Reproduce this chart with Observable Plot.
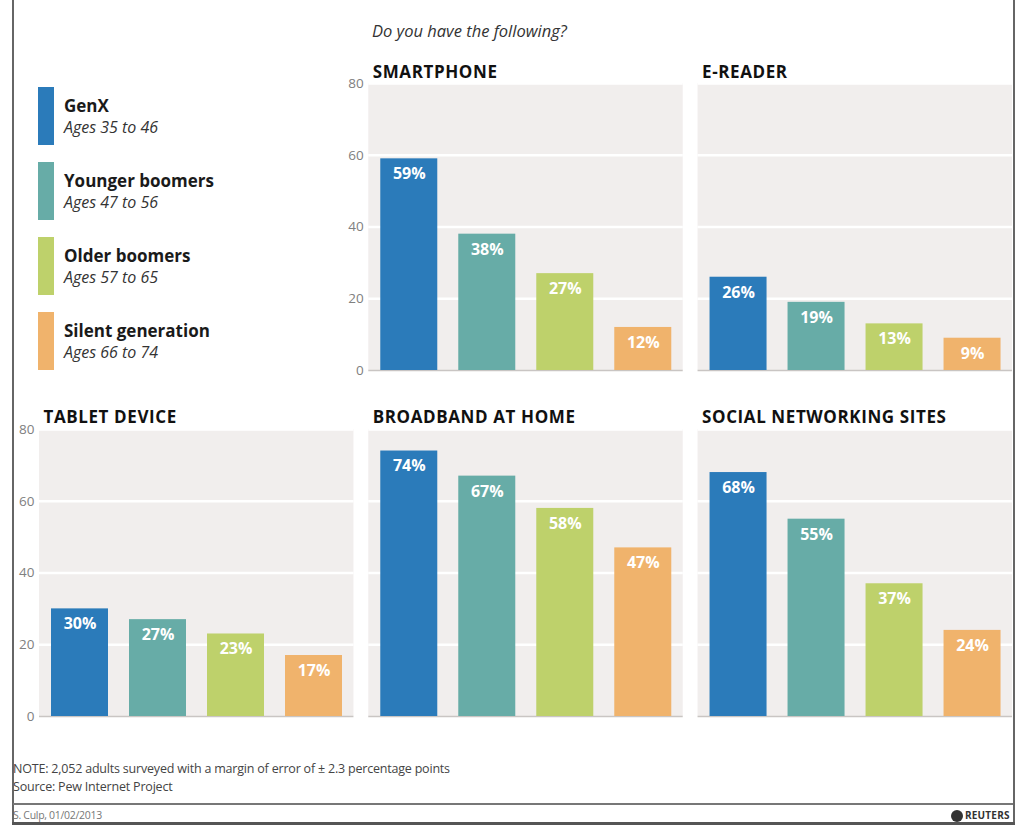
<!DOCTYPE html>
<html>
<head>
<meta charset="utf-8">
<script src="https://cdn.jsdelivr.net/npm/d3@7"></script>
<script src="https://cdn.jsdelivr.net/npm/@observablehq/plot@0.6"></script>
<style>
  html, body { margin: 0; padding: 0; background: #fff; }
  #wrap { position: relative; width: 1019px; height: 828px; overflow: hidden; font-family: "Open Sans", sans-serif; }
  #wrap svg { position: absolute; left: 0; top: 0; }
  .abs { position: absolute; white-space: nowrap; }
</style>
</head>
<body>
<div id="wrap"></div>
<script>
// ---- data ----
const panels = ["SMARTPHONE", "E-READER", "TABLET DEVICE", "BROADBAND AT HOME", "SOCIAL NETWORKING SITES"];
const generations = ["GenX", "Younger boomers", "Older boomers", "Silent generation"];
const ageRanges = ["Ages 35 to 46", "Ages 47 to 56", "Ages 57 to 65", "Ages 66 to 74"];
const smartphone = [59, 38, 27, 12];
const ereader = [26, 19, 13, 9];
const tablet = [30, 27, 23, 17];
const broadband = [74, 67, 58, 47];
const social = [68, 55, 37, 24];
const yTicks = [0, 20, 40, 60, 80];
const colors = ["#2b7bba", "#67aca7", "#bed16b", "#f0b36c"];
const title = "Do you have the following?";
const note = "NOTE: 2,052 adults surveyed with a margin of error of ± 2.3 percentage points";
const source = "Source: Pew Internet Project";
const credit = "S. Culp, 01/02/2013";

// ---- build tables ----
const seriesValues = [smartphone, ereader, tablet, broadband, social];
// grid of 3 columns x 2 rows, first cell holds the legend
const panelInfo = panels.map((name, i) => ({name, col: (i + 1) % 3, row: Math.floor((i + 1) / 3)}));
const table = panelInfo.flatMap((p, i) => generations.map((g, j) => ({...p, gen: g, value: seriesValues[i][j]})));
const gridData = panelInfo.flatMap(p => yTicks.filter(t => t > 0).map(v => ({...p, v})));
const axisPanels = panelInfo.filter(p => p.col === d3.min(panelInfo.filter(q => q.row === p.row), q => q.col));
const axisData = axisPanels.flatMap(p => yTicks.map(v => ({...p, v})));

const chart = Plot.plot({
  width: 1019,
  height: 745,
  marginLeft: 39,
  marginRight: 7,
  marginTop: 83,
  marginBottom: 29,
  style: {fontFamily: "'Open Sans', sans-serif", background: "transparent", overflow: "visible"},
  fx: {domain: [0, 1, 2], paddingInner: 0.045, paddingOuter: 0, round: false, axis: null},
  fy: {domain: [0, 1], paddingInner: 0.1705, paddingOuter: 0, round: false, axis: null},
  x: {domain: generations, paddingInner: 0.27, paddingOuter: 0.15, axis: null},
  y: {domain: [0, 80], axis: null},
  color: {domain: generations, range: colors},
  marks: [
    Plot.rect(panelInfo, {fx: "col", fy: "row", y1: 0, y2: 80, fill: "#f1eeed"}),
    Plot.ruleY(gridData, {fx: "col", fy: "row", y: "v", stroke: "#ffffff", strokeWidth: 2.5}),
    Plot.ruleY(panelInfo, {fx: "col", fy: "row", y: () => 0, stroke: "#c9c5c3", strokeWidth: 1.5}),
    Plot.barY(table, {fx: "col", fy: "row", x: "gen", y: "value", fill: "gen"}),
    Plot.text(table, {fx: "col", fy: "row", x: "gen", y: "value", text: d => d.value + "%",
      fill: "white", fontWeight: "bold", fontSize: 16, lineAnchor: "top", dy: 9,
      style: {letterSpacing: "0.3px"}}),
    Plot.text(panelInfo, {fx: "col", fy: "row", text: "name", frameAnchor: "top-left", dx: 4, dy: -6,
      lineAnchor: "bottom", textAnchor: "start", fontWeight: "bold", fontSize: 17, fill: "#111"}),
    Plot.text(axisData, {fx: "col", fy: "row", y: "v", text: d => String(d.v), frameAnchor: "left",
      dx: -5, textAnchor: "end", fill: "#808080", fontSize: 13.5})
  ]
});

const wrap = document.getElementById("wrap");
wrap.appendChild(chart);
// slightly wider tracking for the panel titles, as in the reference
chart.querySelectorAll("text").forEach(t => {
  if (panels.includes(t.textContent)) t.setAttribute("letter-spacing", "0.6");
});

function addDiv(style, text) {
  const d = document.createElement("div");
  d.className = "abs";
  Object.assign(d.style, style);
  if (text != null) d.textContent = text;
  wrap.appendChild(d);
  return d;
}

// title
addDiv({left: "372px", top: "19px", fontSize: "16.5px", fontStyle: "italic", color: "#333"}, title);

// legend
generations.forEach((g, i) => {
  const top = 87 + i * 75;
  addDiv({left: "38px", top: top + "px", width: "16px", height: "58px", background: colors[i]});
  addDiv({left: "64px", top: (top + 7) + "px", fontSize: "17px", fontWeight: "bold", color: "#1a1a1a"}, g);
  addDiv({left: "64px", top: (top + 29) + "px", fontSize: "16px", fontStyle: "italic", color: "#333"}, ageRanges[i]);
});

// notes
addDiv({left: "13px", top: "760px", fontSize: "12.5px", color: "#444", letterSpacing: "-0.2px"}, note);
addDiv({left: "13px", top: "778px", fontSize: "12.5px", color: "#444", letterSpacing: "-0.2px"}, source);
addDiv({left: "13px", top: "808px", fontSize: "10.5px", color: "#777", letterSpacing: "-0.3px"}, credit);

// Reuters mark
addDiv({left: "951px", top: "810px", width: "12px", height: "12px", borderRadius: "6px", background: "#333"});
addDiv({left: "965px", top: "808px", fontSize: "10px", fontWeight: "bold", color: "#333", letterSpacing: "0.2px"}, "REUTERS");

// frame lines
addDiv({left: "12px", top: "0px", width: "2px", height: "824px", background: "#666"});
addDiv({left: "1013px", top: "0px", width: "2px", height: "824px", background: "#666"});
addDiv({left: "12px", top: "822px", width: "1003px", height: "3px", background: "#555"});
addDiv({left: "13px", top: "803px", width: "1000px", height: "2px", background: "#777"});
</script>
</body>
</html>
